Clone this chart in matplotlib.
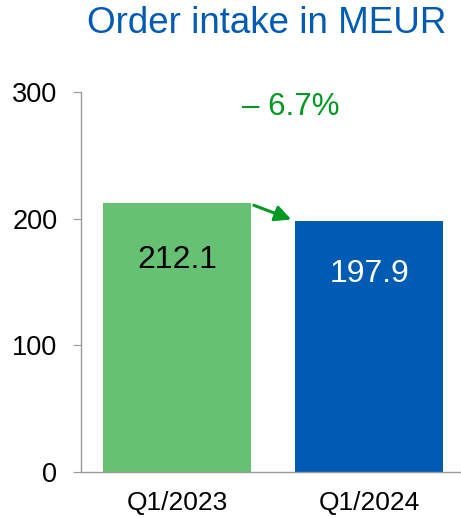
import matplotlib.pyplot as plt

categories = ["Q1/2023", "Q1/2024"]
values = [212.1, 197.9]
bar_colors = ["#66c172", "#005bb5"]
label_colors = ["#000000", "#ffffff"]
change_label = "\u2013 6.7%"
title = "Order intake in MEUR"
yticks = [0, 100, 200, 300]

plt.rcParams['font.family'] = ['Liberation Sans', 'DejaVu Sans']

fig = plt.figure(figsize=(4.61, 5.18), dpi=100)
ax = fig.add_axes([0.1757, 0.0888, 0.833, 0.7336])

x = range(len(categories))
width = 0.77
ax.bar(x, values, width=width, color=bar_colors)

for i, v in enumerate(values):
    ax.text(i, v * 0.79, f"{v:.1f}", ha='center', va='center',
            fontsize=23, color=label_colors[i])

# change arrow between the bars
green = "#009a22"
ax.annotate("", xy=(1 - width / 2 - 0.02, values[1] + 1.5),
            xytext=(width / 2 + 0.015, values[0] - 1.5),
            arrowprops=dict(arrowstyle='-|>', color=green, lw=2.2,
                            mutation_scale=24, shrinkA=0, shrinkB=0))
ax.text(0.594, 288, change_label, ha='center', va='center', fontsize=22.5, color=green)

ax.set_xlim(-0.5, 1.5)
ax.set_ylim(0, 300)
ax.set_yticks(yticks)
ax.set_xticks(list(x))
ax.set_xticklabels(categories)

for s in ['top', 'right']:
    ax.spines[s].set_visible(False)
for s in ['left', 'bottom']:
    ax.spines[s].set_color('#999999')
    ax.spines[s].set_linewidth(1)

ax.tick_params(axis='y', length=6, color='#999999', labelsize=19.5, pad=11)
ax.tick_params(axis='x', length=0, labelsize=19, pad=14)

fig.text(0.579, 0.955, title, ha='center', va='center', fontsize=26.5, color='#005bb5')

fig.savefig("out.png", dpi=100)
